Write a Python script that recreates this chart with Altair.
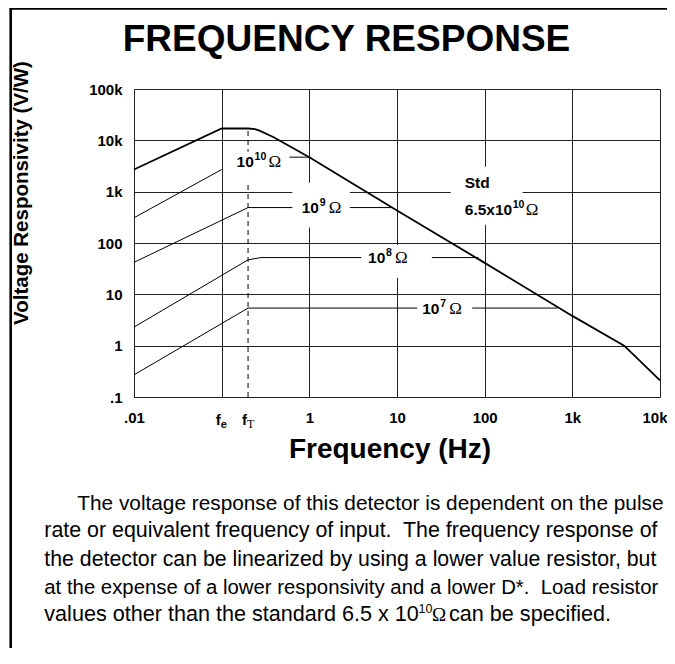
import altair as alt
import pandas as pd

W, H = 526, 308

# ---- data ----
std_f = [0.01, 0.1, 0.2, 0.24, 0.27, 0.387, 1, 10, 100, 1000, 3900, 10000]
std_v = [2700, 17000, 17000, 16500, 15400, 11600, 4700, 430, 41, 3.8, 1.0, 0.21]

r10_f = [0.01, 0.1]
r10_v = [310, 2700]
r9_f = [0.01, 0.2, 9]
r9_v = [42, 490, 490]
r8_f = [0.01, 0.2, 0.28, 85]
r8_v = [2.3, 47, 52, 52]
r7_f = [0.01, 0.2, 680]
r7_v = [0.27, 5.4, 5.4]
lead10_f = [0.59, 1.0]
lead10_v = [4700, 4700]

fe, fT = 0.1, 0.2
fT_top = 17000

x_tick_vals = [0.01, 0.1, 1, 10, 100, 1000, 10000]
x_tick_text = [".01", "", "1", "10", "100", "1k", "10k"]
y_tick_vals = [0.1, 1, 10, 100, 1000, 10000, 100000]
y_tick_text = [".1", "1", "10", "100", "1k", "10k", "100k"]

# white label boxes (data units)
box_f = [0.175, 0.64, 3.9, 17, 41]
box_f2 = [0.59, 2.9, 25, 72, 270]
box_v = [1490, 200, 21, 3.2, 226]
box_v2 = [6000, 1500, 92, 8.2, 3060]

# label pieces: anchor (left edge, baseline), text, pixel offset, style
lab_f = [0.148, 0.148, 0.148, 0.819, 0.819, 0.819, 4.67, 4.67, 4.67,
         19.4, 19.4, 19.4, 59.3, 59.3, 59.3, 59.3]
lab_v = [3020, 3020, 3020, 385, 385, 385, 40.7, 40.7, 40.7,
         4.2, 4.2, 4.2, 1175, 355, 355, 355]
lab_text = ["10", "10", "Ω", "10", "9", "Ω", "10", "8", "Ω",
            "10", "7", "Ω", "Std", "6.5x10", "10", "Ω"]
lab_off = [0, 18, 32, 0, 18, 27, 0, 18, 27, 0, 18, 27, 0, 0, 48, 61]
lab_style = ["base", "sup", "ohm", "base", "sup", "ohm", "base", "sup", "ohm",
             "base", "sup", "ohm", "base", "base", "sup", "ohm"]

title_text = "FREQUENCY RESPONSE"
x_title = "Frequency (Hz)"
y_title = "Voltage Responsivity (V/W)"
para = [
    "The voltage response of this detector is dependent on the pulse",
    "rate or equivalent frequency of input.\u00a0 The frequency response of",
    "the detector can be linearized by using a lower value resistor, but",
    "at the expense of a lower responsivity and a lower D*.\u00a0 Load resistor",
    "values other than the standard 6.5 x 10",
]
para_size = [20.8, 21.4, 21.3, 20.35, 21.6]
para_x = [-56.7, -89.7, -89.7, -89.7, -89.7]
para_y = [420.7, 448.4, 476.7, 504.7, 532.4]
tail_sup, tail_ohm, tail_rest = "10", "Ω", "can be specified."

# ---- tables ----
def series(fs, vs, name):
    return pd.DataFrame({"f": fs, "v": vs, "s": name, "o": range(len(fs))})

thin = pd.concat([series(r10_f, r10_v, "r10"), series(r9_f, r9_v, "r9"),
                  series(r8_f, r8_v, "r8"), series(r7_f, r7_v, "r7"),
                  series(lead10_f, lead10_v, "lead")])
std = series(std_f, std_v, "std")
boxes = pd.DataFrame({"f": box_f, "f2": box_f2, "v": box_v, "v2": box_v2})
labs = pd.DataFrame({"f": lab_f, "v": lab_v, "t": lab_text, "off": lab_off, "st": lab_style})
dash = pd.DataFrame({"f": [fT], "v": [0.1], "v2": [fT_top]})
fl = pd.DataFrame({"f": [fe, fT], "t": ["f", "f"], "sub": ["e", "T"], "v": [0.1, 0.1]})

xs = alt.Scale(type="log", domain=[0.01, 10000], nice=False)
ys = alt.Scale(type="log", domain=[0.1, 100000], nice=False)

def expr(vals, txts):
    s = ""
    for v, t in zip(vals, txts):
        s += f"datum.value == {v} ? '{t}' : "
    return s + "''"

FONT = "Liberation Sans"

x_axis = alt.Axis(
    values=x_tick_vals, labelExpr=expr(x_tick_vals, x_tick_text), grid=True,
    ticks=False, title=None, labelPadding=13, labelFlush=False,
    labelAlign={"condition": {"test": "datum.value == 10000", "value": "right"}, "value": "center"},
    labelOffset={"condition": {"test": "datum.value == 10000", "value": 7}, "value": 0})
y_axis = alt.Axis(
    values=y_tick_vals, labelExpr=expr(y_tick_vals, y_tick_text), grid=True,
    ticks=False, title=None, labelPadding=12, labelFlush=False)

X = alt.X("f:Q", scale=xs, axis=x_axis)
Y = alt.Y("v:Q", scale=ys, axis=y_axis)

dash_l = alt.Chart(dash).mark_rule(color="black", strokeWidth=1, strokeDash=[5, 4]).encode(
    x=X, y=Y, y2="v2:Q")
thin_l = alt.Chart(thin).mark_line(color="black", strokeWidth=1).encode(
    x=X, y=Y, detail="s:N", order="o:Q")
box_l = alt.Chart(boxes).mark_rect(color="white").encode(
    x=X, x2="f2:Q", y=Y, y2="v2:Q")
std_l = alt.Chart(std).mark_line(color="black", strokeWidth=1.8).encode(
    x=X, y=Y, order="o:Q")

def piece(style, off, **kw):
    return alt.Chart(labs).transform_filter(
        (alt.datum.st == style) & (alt.datum.off == off)).mark_text(
        align="left", baseline="alphabetic", color="black", dx=off, **kw).encode(
        x=X, y=Y, text="t:N")

BASE = dict(font=FONT, fontWeight="bold", fontSize=15.5)
SUP = dict(font=FONT, fontWeight="bold", fontSize=10.5, dy=-7)
OHM = dict(font="Liberation Serif", fontSize=17)
pieces = [
    piece("base", 0, **BASE),
    piece("sup", 18, **SUP), piece("sup", 48, **SUP),
    piece("ohm", 27, **OHM), piece("ohm", 32, **OHM), piece("ohm", 61, **OHM),
]

f_main = alt.Chart(fl).mark_text(align="right", baseline="alphabetic", font=FONT,
                                 fontWeight="bold", fontSize=15, dy=28, dx=-1).encode(
    x=X, y=Y, text="t:N")
f_sub_e = alt.Chart(fl[fl["sub"] == "e"]).mark_text(align="left", baseline="alphabetic", font=FONT,
                                  fontWeight="bold", fontSize=11, dy=31, dx=-1).encode(
    x=X, y=Y, text="sub:N")
f_sub_T = alt.Chart(fl[fl["sub"] == "T"]).mark_text(align="left", baseline="alphabetic",
                                  font="Liberation Serif", fontSize=12, dy=31, dx=-1).encode(
    x=X, y=Y, text="sub:N")

# ---- page texts (positions relative to the plot area) ----
one = pd.DataFrame({"a": [0]})

def ptext(txt, x, y, **kw):
    return alt.Chart(one).mark_text(text=txt, baseline="alphabetic", **kw).encode(
        x=alt.value(x), y=alt.value(y))

title_l = ptext(title_text, 212.5, -38, font=FONT, fontWeight="bold", fontSize=37, align="center")
xt_l = ptext(x_title, 256, H + 61, font=FONT, fontWeight="bold", fontSize=28, align="center")
yt_l = alt.Chart(one).mark_text(text=y_title, font=FONT, fontWeight="bold", fontSize=20.5,
                                align="center", baseline="middle", angle=270).encode(
    x=alt.value(-112), y=alt.value(104))

para_l = [ptext(t, x, y, font=FONT, fontSize=s, align="left")
          for t, x, y, s in zip(para, para_x, para_y, para_size)]
tail = [
    ptext(tail_sup, 284.5, 524, font=FONT, fontSize=12.5, align="left"),
    ptext(tail_ohm, 298, 532.4, font="Liberation Serif", fontSize=19, align="left"),
    ptext(tail_rest, 315, 532.4, font=FONT, fontSize=21.6, align="left"),
]

frame_l = alt.Chart(one).mark_rule(color="black", strokeWidth=2.6).encode(
    x=alt.value(-123.3), y=alt.value(-80.5), y2=alt.value(H + 260))
frame_t = alt.Chart(one).mark_rule(color="black", strokeWidth=2.6).encode(
    x=alt.value(-124.6), x2=alt.value(W + 10), y=alt.value(-80.5))

chart = alt.layer(
    dash_l, thin_l, box_l, std_l, *pieces,
    f_main, f_sub_e, f_sub_T, title_l, xt_l, yt_l, *para_l, *tail, frame_l, frame_t,
).properties(
    width=W, height=H, autosize=alt.AutoSizeParams(type="none"),
    padding={"left": 126, "top": 81, "right": 7, "bottom": 251},
).configure_view(stroke=None).configure_axis(
    labelFont=FONT, labelFontWeight="bold", labelFontSize=15, labelColor="black",
    gridColor="#222", gridWidth=1, gridOpacity=1, domainColor="#222", domainWidth=1,
)

chart.save("out.html", embed_options={"renderer": "svg", "actions": False})
